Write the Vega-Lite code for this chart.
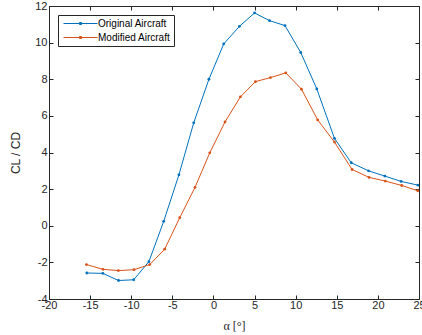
{
  "$schema": "https://vega.github.io/schema/vega-lite/v6.json",
  "autosize": "none",
  "width": 370,
  "height": 293,
  "padding": {"left": 49, "top": 6, "right": 3, "bottom": 36},
  "config": {
    "view": {"stroke": "#262626", "strokeWidth": 1},
    "font": "Liberation Sans",
    "axis": {
      "gridColor": "#e6e6e6",
      "gridOpacity": 1,
      "domainColor": "#262626",
      "tickColor": "#262626",
      "labelColor": "#262626",
      "labelFontSize": 11,
      "titleColor": "#262626",
      "titleFontWeight": "normal",
      "tickSize": -4
    }
  },
  "data": {
    "values": [
      {"a": -15.4, "r": -2.58, "s": "Original Aircraft"},
      {"a": -13.45, "r": -2.6, "s": "Original Aircraft"},
      {"a": -11.55, "r": -2.99, "s": "Original Aircraft"},
      {"a": -9.7, "r": -2.95, "s": "Original Aircraft"},
      {"a": -7.85, "r": -1.96, "s": "Original Aircraft"},
      {"a": -6.05, "r": 0.24, "s": "Original Aircraft"},
      {"a": -4.2, "r": 2.78, "s": "Original Aircraft"},
      {"a": -2.4, "r": 5.62, "s": "Original Aircraft"},
      {"a": -0.55, "r": 8.0, "s": "Original Aircraft"},
      {"a": 1.25, "r": 9.93, "s": "Original Aircraft"},
      {"a": 3.16, "r": 10.89, "s": "Original Aircraft"},
      {"a": 5.0, "r": 11.62, "s": "Original Aircraft"},
      {"a": 6.82, "r": 11.2, "s": "Original Aircraft"},
      {"a": 8.7, "r": 10.93, "s": "Original Aircraft"},
      {"a": 10.62, "r": 9.46, "s": "Original Aircraft"},
      {"a": 12.57, "r": 7.47, "s": "Original Aircraft"},
      {"a": 14.72, "r": 4.77, "s": "Original Aircraft"},
      {"a": 16.76, "r": 3.44, "s": "Original Aircraft"},
      {"a": 18.86, "r": 3.0, "s": "Original Aircraft"},
      {"a": 20.85, "r": 2.71, "s": "Original Aircraft"},
      {"a": 22.83, "r": 2.42, "s": "Original Aircraft"},
      {"a": 24.85, "r": 2.22, "s": "Original Aircraft"},
      {"a": -15.45, "r": -2.12, "s": "Modified Aircraft"},
      {"a": -13.43, "r": -2.38, "s": "Modified Aircraft"},
      {"a": -11.56, "r": -2.45, "s": "Modified Aircraft"},
      {"a": -9.66, "r": -2.4, "s": "Modified Aircraft"},
      {"a": -7.75, "r": -2.12, "s": "Modified Aircraft"},
      {"a": -5.93, "r": -1.28, "s": "Modified Aircraft"},
      {"a": -4.1, "r": 0.44, "s": "Modified Aircraft"},
      {"a": -2.24, "r": 2.1, "s": "Modified Aircraft"},
      {"a": -0.45, "r": 3.98, "s": "Modified Aircraft"},
      {"a": 1.41, "r": 5.67, "s": "Modified Aircraft"},
      {"a": 3.28, "r": 7.04, "s": "Modified Aircraft"},
      {"a": 5.1, "r": 7.87, "s": "Modified Aircraft"},
      {"a": 6.93, "r": 8.09, "s": "Modified Aircraft"},
      {"a": 8.8, "r": 8.35, "s": "Modified Aircraft"},
      {"a": 10.7, "r": 7.46, "s": "Modified Aircraft"},
      {"a": 12.68, "r": 5.78, "s": "Modified Aircraft"},
      {"a": 14.72, "r": 4.57, "s": "Modified Aircraft"},
      {"a": 16.86, "r": 3.07, "s": "Modified Aircraft"},
      {"a": 18.93, "r": 2.64, "s": "Modified Aircraft"},
      {"a": 20.9, "r": 2.44, "s": "Modified Aircraft"},
      {"a": 22.9, "r": 2.2, "s": "Modified Aircraft"},
      {"a": 24.85, "r": 1.91, "s": "Modified Aircraft"}
    ]
  },
  "layer": [
    {
      "mark": {"type": "line", "strokeOpacity": 0},
      "encoding": {
        "x": {
          "field": "a", "type": "quantitative",
          "scale": {"domain": [-20, 25], "nice": false, "zero": false},
          "axis": {"orient": "top", "values": [-20, -15, -10, -5, 0, 5, 10, 15, 20, 25], "labels": false, "title": null, "grid": false, "domain": false}
        },
        "y": {
          "field": "r", "type": "quantitative",
          "scale": {"domain": [-4, 12], "nice": false, "zero": false},
          "axis": {"orient": "right", "values": [-4, -2, 0, 2, 4, 6, 8, 10, 12], "labels": false, "title": null, "grid": false, "domain": false}
        },
        "detail": {"field": "s"}
      }
    },
    {
      "mark": {"type": "line", "strokeWidth": 1, "clip": true, "point": {"size": 8, "filled": true}},
      "encoding": {
        "x": {
          "field": "a", "type": "quantitative",
          "scale": {"domain": [-20, 25], "nice": false, "zero": false},
          "axis": {"orient": "bottom", "values": [-20, -15, -10, -5, 0, 5, 10, 15, 20, 25], "labelExpr": "toString(datum.value)", "title": "α [°]", "titleFont": "Liberation Serif", "titleFontSize": 12, "titleColor": "#262626", "titlePadding": 10, "labelPadding": 4, "labelFlush": false}
        },
        "y": {
          "field": "r", "type": "quantitative",
          "scale": {"domain": [-4, 12], "nice": false, "zero": false},
          "axis": {"orient": "left", "values": [-4, -2, 0, 2, 4, 6, 8, 10, 12], "labelExpr": "toString(datum.value)", "title": "CL / CD", "titleFontSize": 12, "titlePadding": 12, "labelPadding": 6}
        },
        "color": {
          "field": "s", "type": "nominal",
          "sort": ["Original Aircraft", "Modified Aircraft"],
          "scale": {"domain": ["Original Aircraft", "Modified Aircraft"], "range": ["#0072BD", "#D95319"]},
          "legend": {
            "title": null, "orient": "none", "legendX": 9, "legendY": 9,
            "fillColor": "white", "strokeColor": "#262626", "padding": 3,
            "labelFontSize": 10, "labelColor": "#000000", "labelOffset": 26,
            "symbolType": "M-0.6,0H6.2M2.6,-0.2h0.4v0.4h-0.4z", "symbolSize": 100, "symbolStrokeWidth": 1, "rowPadding": 3
          }
        }
      }
    }
  ],
  "resolve": {"axis": {"x": "independent", "y": "independent"}}
}
